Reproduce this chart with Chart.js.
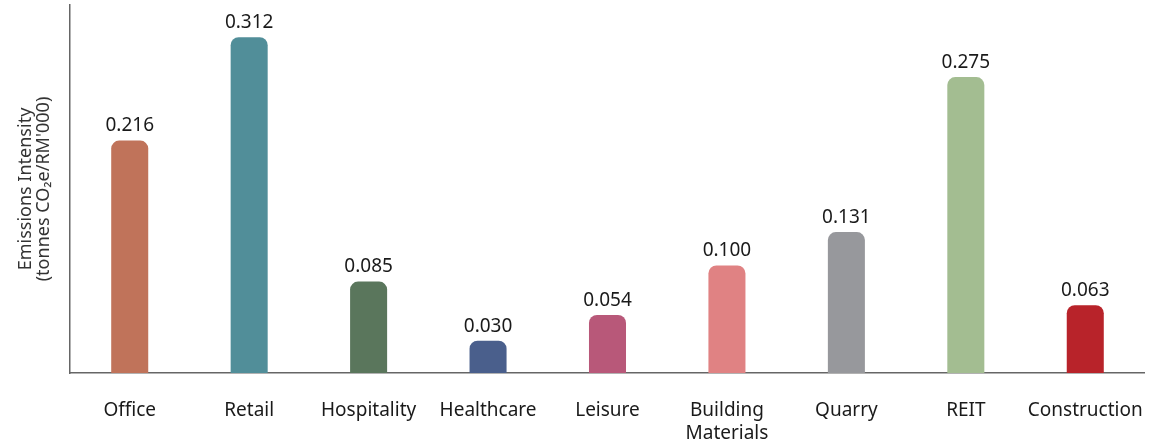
<!DOCTYPE html>
<html>
<head>
<meta charset="utf-8">
<script src="https://cdn.jsdelivr.net/npm/chart.js@4/dist/chart.umd.min.js"></script>
<style>
  html, body { margin: 0; padding: 0; background: #fff; }
  #wrap { width: 1170px; height: 445px; }
</style>
</head>
<body>
<div id="wrap"><canvas id="chart"></canvas></div>
<script>
const categories = ['Office', 'Retail', 'Hospitality', 'Healthcare', 'Leisure', ['Building', 'Materials'], 'Quarry', 'REIT', 'Construction'];
const intensity = [0.216, 0.312, 0.085, 0.030, 0.054, 0.100, 0.131, 0.275, 0.063];
const barColors = ['#C0735A', '#518E99', '#5A765C', '#4A5F8C', '#B85879', '#E08283', '#97989C', '#A3BD91', '#B8232A'];
const yTitle = ['Emissions Intensity', '(tonnes CO\u2082e/RM\'000)'];

const fontFamily = '"Noto Sans", "Open Sans", sans-serif';

// labels with the value above each bar
const valueLabels = {
  id: 'valueLabels',
  afterDatasetsDraw(chart) {
    const ctx = chart.ctx;
    const meta = chart.getDatasetMeta(0);
    ctx.save();
    ctx.font = '19px ' + fontFamily;
    ctx.fillStyle = '#1a1a1a';
    ctx.textAlign = 'center';
    ctx.textBaseline = 'bottom';
    meta.data.forEach((bar, i) => {
      ctx.fillText(intensity[i].toFixed(3), bar.x, bar.y - 5);
    });
    ctx.restore();
  }
};

new Chart(document.getElementById('chart'), {
  type: 'bar',
  data: {
    labels: categories,
    datasets: [{
      data: intensity,
      backgroundColor: barColors,
      borderRadius: { topLeft: 8, topRight: 8, bottomLeft: 0, bottomRight: 0 },
      borderSkipped: 'bottom',
      barPercentage: 0.31,
      categoryPercentage: 1
    }]
  },
  options: {
    responsive: true,
    maintainAspectRatio: false,
    animation: false,
    layout: { padding: { top: 5, right: 23, left: 16, bottom: 0 } },
    plugins: {
      legend: { display: false },
      tooltip: { enabled: false }
    },
    scales: {
      x: {
        grid: { display: false, drawTicks: false },
        border: { color: '#666', width: 1.5 },
        ticks: {
          color: '#1a1a1a',
          font: { size: 19, family: fontFamily },
          padding: 26,
          maxRotation: 0,
          autoSkip: false
        },
        afterFit(scale) { scale.height = 72; }
      },
      y: {
        min: 0,
        max: 0.342,
        grid: { display: false, drawTicks: false },
        border: { color: '#666', width: 1.5 },
        ticks: { display: false },
        title: {
          display: true,
          text: yTitle,
          color: '#333',
          font: { size: 18, family: fontFamily, lineHeight: 1.05 },
          padding: { top: 0, bottom: 0 }
        },
        afterFit(scale) { scale.width = 54; }
      }
    }
  },
  plugins: [valueLabels]
});
</script>
</body>
</html>
